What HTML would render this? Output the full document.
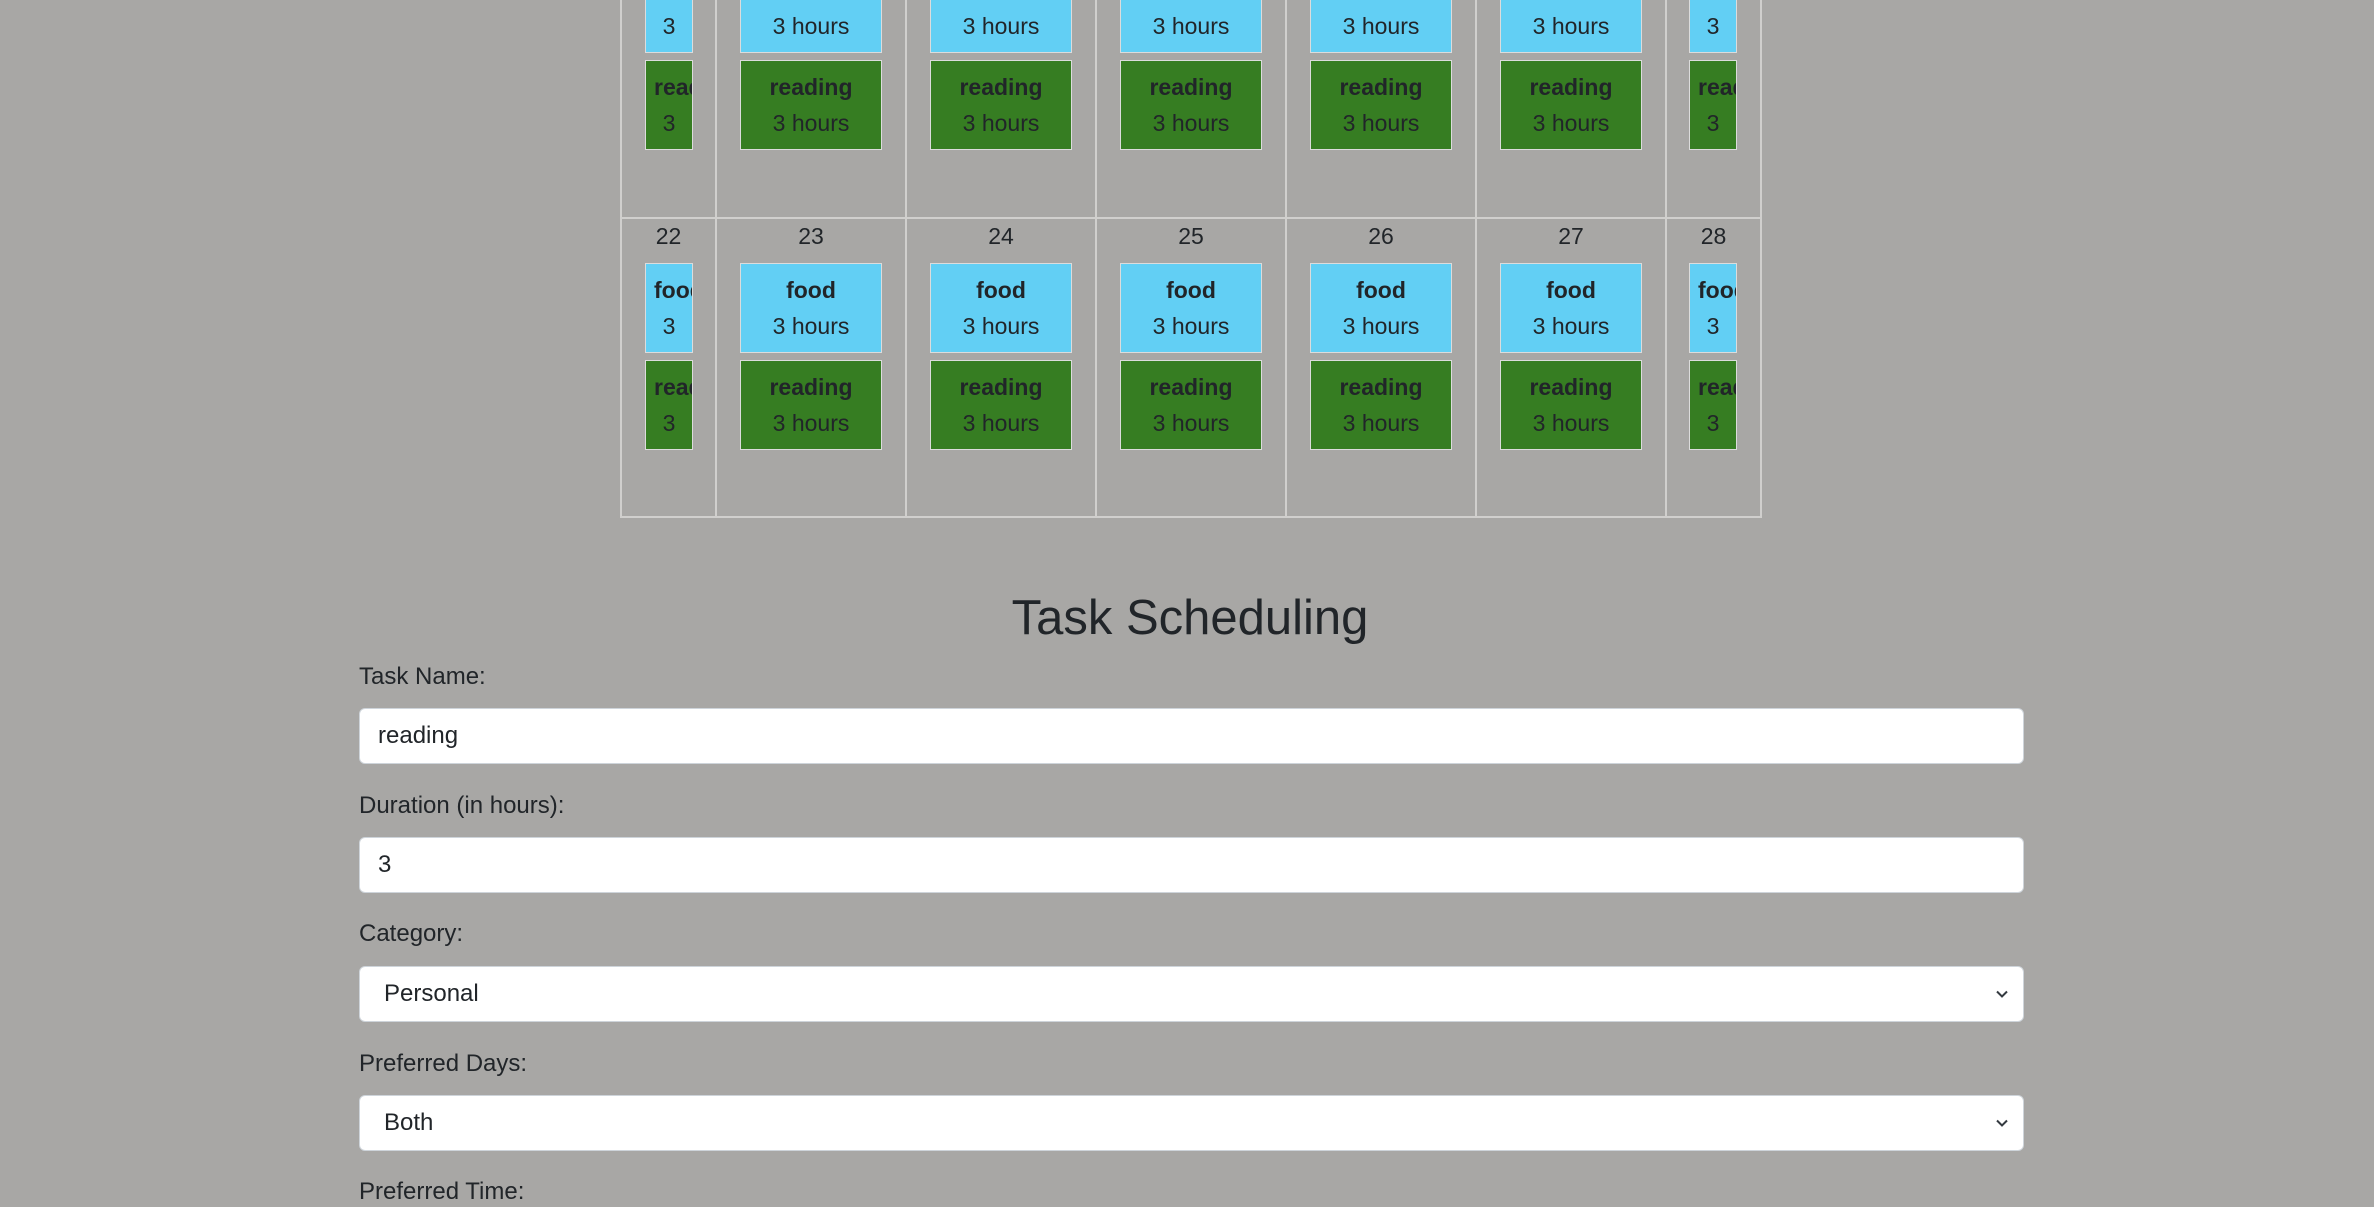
<!DOCTYPE html>
<html><head><meta charset="utf-8"><style>
*{box-sizing:border-box;margin:0;padding:0}
html,body{width:2374px;height:1195px;overflow:hidden;background:#a8a7a5;font-family:"Liberation Sans",Arial,sans-serif;color:#212529}
.vl{position:absolute;width:2px;background:#d0cfcd}
.hl{position:absolute;height:2px;background:#d0cfcd}
.num{position:absolute;font-size:23px;text-align:center;line-height:30px}
.box{position:absolute;border:1.5px solid #dcdcdc;padding:8px 8px;text-align:center;font-size:23px;line-height:36px;overflow:hidden}
.box b{display:block;white-space:nowrap}
.box span{display:block;height:36px;overflow:hidden}
.blue{background:#62cff4}
.green{background:#367d22}
h2{position:absolute;left:0;width:2380px;top:588px;text-align:center;font-weight:400;font-size:49px;line-height:60px}
.lab{position:absolute;left:359px;font-size:24px;line-height:30px}
.inp{position:absolute;left:359px;width:1665px;height:56px;background:#fff;border:1.5px solid #ced4da;border-radius:6px;font-size:24px;line-height:53px;padding-left:18px}
.sel{padding-left:24px}
.chev{position:absolute;right:14px;top:20px;width:14px;height:14px}
</style></head><body>
<div class="hl" style="left:621px;width:1141px;top:217px"></div>
<div class="hl" style="left:621px;width:1141px;top:516px"></div>
<div class="vl" style="left:620px;top:0;height:518px"></div>
<div class="vl" style="left:715px;top:0;height:518px"></div>
<div class="vl" style="left:905px;top:0;height:518px"></div>
<div class="vl" style="left:1095px;top:0;height:518px"></div>
<div class="vl" style="left:1285px;top:0;height:518px"></div>
<div class="vl" style="left:1475px;top:0;height:518px"></div>
<div class="vl" style="left:1665px;top:0;height:518px"></div>
<div class="vl" style="left:1760px;top:0;height:518px"></div>

<!-- row 1 (partial) -->
<div class="box blue" style="left:645px;top:-37px;width:48px;height:90px"><b>food</b><span>3 hours</span></div>
<div class="box green" style="left:645px;top:60px;width:48px;height:90px"><b>reading</b><span>3 hours</span></div>
<div class="box blue" style="left:740px;top:-37px;width:142px;height:90px"><b>food</b><span>3 hours</span></div>
<div class="box green" style="left:740px;top:60px;width:142px;height:90px"><b>reading</b><span>3 hours</span></div>
<div class="box blue" style="left:930px;top:-37px;width:142px;height:90px"><b>food</b><span>3 hours</span></div>
<div class="box green" style="left:930px;top:60px;width:142px;height:90px"><b>reading</b><span>3 hours</span></div>
<div class="box blue" style="left:1120px;top:-37px;width:142px;height:90px"><b>food</b><span>3 hours</span></div>
<div class="box green" style="left:1120px;top:60px;width:142px;height:90px"><b>reading</b><span>3 hours</span></div>
<div class="box blue" style="left:1310px;top:-37px;width:142px;height:90px"><b>food</b><span>3 hours</span></div>
<div class="box green" style="left:1310px;top:60px;width:142px;height:90px"><b>reading</b><span>3 hours</span></div>
<div class="box blue" style="left:1500px;top:-37px;width:142px;height:90px"><b>food</b><span>3 hours</span></div>
<div class="box green" style="left:1500px;top:60px;width:142px;height:90px"><b>reading</b><span>3 hours</span></div>
<div class="box blue" style="left:1689px;top:-37px;width:48px;height:90px"><b>food</b><span>3 hours</span></div>
<div class="box green" style="left:1689px;top:60px;width:48px;height:90px"><b>reading</b><span>3 hours</span></div>

<!-- row 2 -->
<div class="num" style="left:621px;width:95px;top:221px">22</div>
<div class="num" style="left:716px;width:190px;top:221px">23</div>
<div class="num" style="left:906px;width:190px;top:221px">24</div>
<div class="num" style="left:1096px;width:190px;top:221px">25</div>
<div class="num" style="left:1286px;width:190px;top:221px">26</div>
<div class="num" style="left:1476px;width:190px;top:221px">27</div>
<div class="num" style="left:1666px;width:95px;top:221px">28</div>

<div class="box blue" style="left:645px;top:263px;width:48px;height:90px"><b>food</b><span>3 hours</span></div>
<div class="box green" style="left:645px;top:360px;width:48px;height:90px"><b>reading</b><span>3 hours</span></div>
<div class="box blue" style="left:740px;top:263px;width:142px;height:90px"><b>food</b><span>3 hours</span></div>
<div class="box green" style="left:740px;top:360px;width:142px;height:90px"><b>reading</b><span>3 hours</span></div>
<div class="box blue" style="left:930px;top:263px;width:142px;height:90px"><b>food</b><span>3 hours</span></div>
<div class="box green" style="left:930px;top:360px;width:142px;height:90px"><b>reading</b><span>3 hours</span></div>
<div class="box blue" style="left:1120px;top:263px;width:142px;height:90px"><b>food</b><span>3 hours</span></div>
<div class="box green" style="left:1120px;top:360px;width:142px;height:90px"><b>reading</b><span>3 hours</span></div>
<div class="box blue" style="left:1310px;top:263px;width:142px;height:90px"><b>food</b><span>3 hours</span></div>
<div class="box green" style="left:1310px;top:360px;width:142px;height:90px"><b>reading</b><span>3 hours</span></div>
<div class="box blue" style="left:1500px;top:263px;width:142px;height:90px"><b>food</b><span>3 hours</span></div>
<div class="box green" style="left:1500px;top:360px;width:142px;height:90px"><b>reading</b><span>3 hours</span></div>
<div class="box blue" style="left:1689px;top:263px;width:48px;height:90px"><b>food</b><span>3 hours</span></div>
<div class="box green" style="left:1689px;top:360px;width:48px;height:90px"><b>reading</b><span>3 hours</span></div>

<h2>Task Scheduling</h2>
<div class="lab" style="top:662px">Task Name:</div>
<div class="inp" style="top:708px">reading</div>
<div class="lab" style="top:791px">Duration (in hours):</div>
<div class="inp" style="top:837px">3</div>
<div class="lab" style="top:919px">Category:</div>
<div class="inp sel" style="top:966px">Personal<svg class="chev" viewBox="0 0 14 14"><path d="M2 4.5l5 5 5-5" fill="none" stroke="#343a40" stroke-width="2"/></svg></div>
<div class="lab" style="top:1049px">Preferred Days:</div>
<div class="inp sel" style="top:1095px">Both<svg class="chev" viewBox="0 0 14 14"><path d="M2 4.5l5 5 5-5" fill="none" stroke="#343a40" stroke-width="2"/></svg></div>
<div class="lab" style="top:1177px">Preferred Time:</div>
</body></html>
